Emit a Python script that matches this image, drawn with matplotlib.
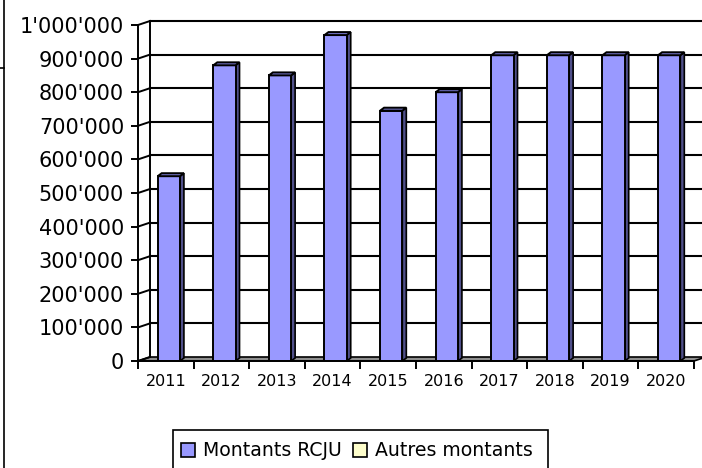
import numpy as np
import matplotlib
matplotlib.use("Agg")
import matplotlib.pyplot as plt
from matplotlib.patches import Polygon, Patch, Rectangle
from matplotlib.lines import Line2D

years = ['2011', '2012', '2013', '2014', '2015', '2016', '2017', '2018', '2019', '2020']
montants_rcju = [550000, 880000, 850000, 970000, 745000, 800000, 910000, 910000, 910000, 910000]
autres_montants = [0, 0, 0, 0, 0, 0, 0, 0, 0, 0]
y_ticks = np.arange(0, 1000001, 100000)

W, H = 702, 468
fig = plt.figure(figsize=(W / 100, H / 100), dpi=100)
ax_l, ax_b, ax_w, ax_h = 138, 361, 556, 336  # pixels, top-down for ax_b
ax = fig.add_axes([ax_l / W, (H - ax_b) / H, ax_w / W, ax_h / H])
n = len(years)
ax.set_xlim(0, n)
ax.set_ylim(0, 1000000)

# pixel -> data helpers for the pseudo-3d depth
px_x = n / ax_w
px_y = 1000000 / ax_h
wall_dx, wall_dy = 12 * px_x, 4 * px_y
bar_dx, bar_dy = 4 * px_x, 3 * px_y

# walls and floor
floor = Polygon([(0, 0), (n, 0), (n + wall_dx, wall_dy), (wall_dx, wall_dy)],
                closed=True, facecolor='#8f8f8f', edgecolor='black', lw=1.2,
                clip_on=False, zorder=1)
ax.add_patch(floor)
ax.plot([wall_dx, wall_dx], [wall_dy, 1000000 + wall_dy], color='black', lw=1.4,
        clip_on=False, zorder=1)
for v in y_ticks[1:]:
    ax.plot([wall_dx, n + wall_dx + 1], [v + wall_dy, v + wall_dy], color='black',
            lw=1.5, clip_on=False, zorder=1)
for v in y_ticks:
    ax.plot([0, wall_dx], [v, v + wall_dy], color='black', lw=1.4,
            clip_on=False, zorder=1)

# bars with side and top faces
x = np.arange(n) + 0.5 + 3 * px_x
bw = 0.4
ax.bar(x, montants_rcju, width=bw, color='#9999ff', edgecolor='black', lw=1.4, zorder=3)
ax.bar(x + bw, autres_montants, width=bw, color='#ffffcc', edgecolor='none', lw=0, zorder=3)
for xi, v in zip(x, montants_rcju):
    r = xi + bw / 2
    l = xi - bw / 2
    side = Polygon([(r, 0), (r + bar_dx, bar_dy), (r + bar_dx, v + bar_dy), (r, v)],
                   closed=True, facecolor='#50508a', edgecolor='black', lw=1.2, zorder=2)
    top = Polygon([(l, v), (r, v), (r + bar_dx, v + bar_dy), (l + bar_dx, v + bar_dy)],
                  closed=True, facecolor='#7070c0', edgecolor='black', lw=1.4, zorder=4)
    ax.add_patch(side)
    ax.add_patch(top)

# axes styling
for s in ['top', 'right']:
    ax.spines[s].set_visible(False)
ax.spines['left'].set_linewidth(1.4)
ax.spines['bottom'].set_linewidth(1.4)
ax.spines['left'].set_zorder(5)
ax.spines['bottom'].set_zorder(5)
ax.set_yticks(y_ticks)
ax.set_yticklabels([f"{v:,.0f}".replace(",", "'") for v in y_ticks], fontsize=15)
ax.tick_params(axis='y', direction='out', length=5, width=1.4, pad=5)
ax.set_xticks(np.arange(n + 1))
ax.set_xticklabels([])
ax.set_xticks(np.arange(n) + 0.5, minor=True)
ax.set_xticklabels(years, minor=True, fontsize=11.5)
ax.tick_params(axis='x', which='major', direction='out', length=6, width=1.4)
ax.tick_params(axis='x', which='minor', length=0, pad=9)
ax.patch.set_alpha(0)

# outer frame bits
fig.add_artist(Line2D([4 / W, 4 / W], [0, 1], color='black', lw=1.2))
fig.add_artist(Line2D([0, 4 / W], [1 - 68 / H, 1 - 68 / H], color='black', lw=1.2))

# legend
fig.add_artist(Rectangle((173 / W, -0.05), (548 - 173) / W, 0.05 + (H - 430) / H,
                         transform=fig.transFigure, facecolor='white',
                         edgecolor='black', lw=1.2))
handles = [Patch(facecolor='#9999ff', edgecolor='black', lw=1.2),
           Patch(facecolor='#ffffcc', edgecolor='black', lw=1.2)]
fig.legend(handles, ['Montants RCJU', 'Autres montants'], ncol=2, frameon=False,
           loc='center left', bbox_to_anchor=(181 / W, 1 - 451 / H), fontsize=13.6,
           handlelength=0.72, handleheight=0.72, handletextpad=0.45,
           columnspacing=0.6, borderpad=0, borderaxespad=0)

fig.savefig('out.png', dpi=100)
